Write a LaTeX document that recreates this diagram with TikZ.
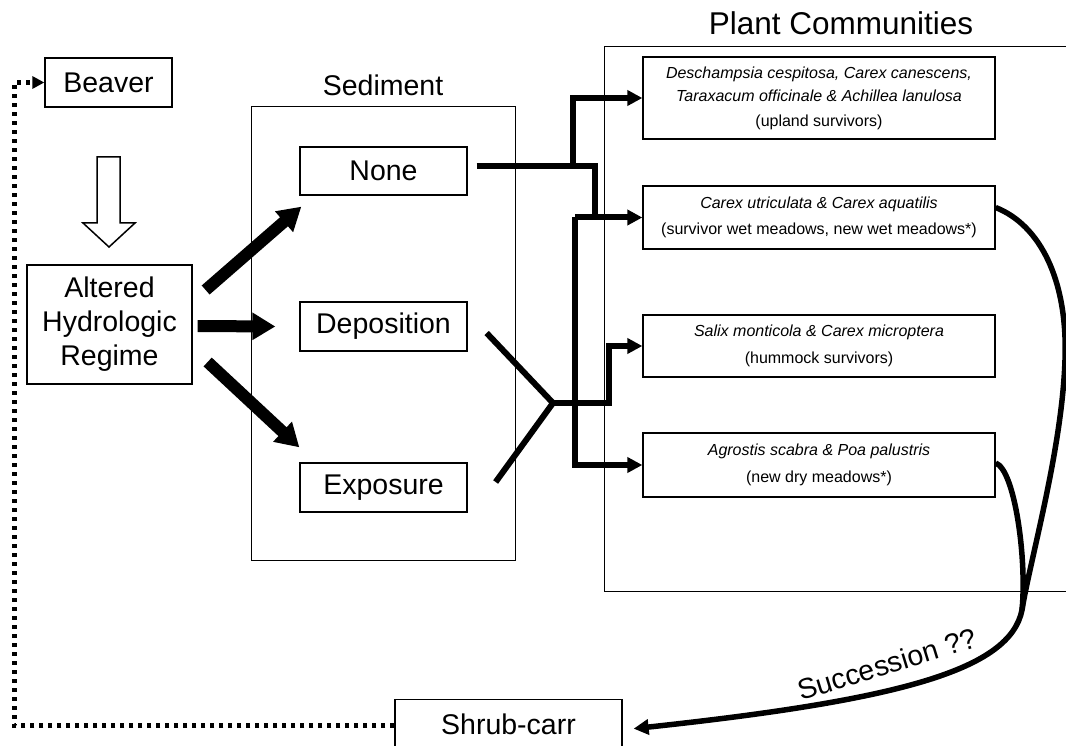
\documentclass[tikz,border=0pt]{standalone}
\usepackage{fontspec}
\setmainfont{Liberation Sans}
\usetikzlibrary{arrows.meta,calc}
\begin{document}
\begin{tikzpicture}[x=1pt,y=-1pt,
  box/.style={draw,line width=1.3pt,inner sep=0pt,align=center},
  outer/.style={draw,line width=1pt,inner sep=0pt},
  big/.style={font=\fontsize{28.5}{34}\selectfont},
  small/.style={font=\fontsize{16}{23}\selectfont},
  conn/.style={line width=6pt},
  arr/.style={-{Triangle[length=15pt,width=15pt]}},
  fatarrow/.style={line width=12pt,-{Triangle[length=23pt,width=26pt]}},
  dotline/.style={line width=4.5pt,dash pattern=on 4pt off 5pt},
]
\clip (0,0) rectangle (1066,746);
% outer frames
\node[outer,minimum width=264pt,minimum height=453pt] (sedbox) at (383,333.5) {};
\node[outer,minimum width=496pt,minimum height=544pt] (plantbox) at (852,319) {};
\node[big] (sedlabel) at (383,85) {Sediment};
\node[font=\fontsize{31.5}{36}\selectfont] (plantlabel) at (841,23) {Plant Communities};
% left nodes
\node[box,big,minimum width=127pt,minimum height=49pt] (beaver) at (108.5,82.5) {Beaver};
\node[box,big,minimum width=165pt,minimum height=119pt] (altered) at (109.5,324.5) {Altered\\Hydrologic\\Regime};
% sediment nodes
\node[box,big,minimum width=167pt,minimum height=48pt] (none) at (383.5,171) {None};
\node[box,big,minimum width=167pt,minimum height=49pt] (deposition) at (383.5,326.5) {Deposition};
\node[box,big,minimum width=167pt,minimum height=49pt] (exposure) at (383.5,487.5) {Exposure};
% plant nodes
\node[box,small,minimum width=352pt,minimum height=82pt] (box1) at (819,98)
  {\itshape Deschampsia cespitosa, Carex canescens,\\\itshape Taraxacum officinale \& Achillea lanulosa\\[2pt](upland survivors)};
\node[box,small,minimum width=352pt,minimum height=63pt] (box2) at (819,217.5)
  {\itshape Carex utriculata \& Carex aquatilis\\[3pt](survivor wet meadows, new wet meadows*)};
\node[box,small,minimum width=352pt,minimum height=62pt] (box3) at (819,346)
  {\itshape Salix monticola \& Carex microptera\\[4pt](hummock survivors)};
\node[box,small,minimum width=352pt,minimum height=64pt] (box4) at (819,465)
  {\itshape Agrostis scabra \& Poa palustris\\[4pt](new dry meadows*)};
\node[box,big,minimum width=227pt,minimum height=49pt,anchor=north] (shrub) at (508.5,699) {Shrub-carr};
% hollow arrow
\draw[line width=1.5pt,fill=white] (97,157) -- (120,157) -- (120,223) -- (135,223) -- (109,247) -- (83,223) -- (97,223) -- cycle;
% fat arrows
\draw[fatarrow] ([xshift=13pt,yshift=34.5pt]altered.east) -- ([xshift=2pt,yshift=-11pt]none.south west);
\draw[fatarrow] ([xshift=5pt,yshift=-1.5pt]altered.east) -- ([xshift=-24pt]deposition.west);
\draw[fatarrow] ([xshift=15pt,yshift=-37.5pt]altered.east) -- ([yshift=15pt]exposure.north west);
% connectors
\coordinate (jn) at (595,166);
\coordinate (jup) at (573,166);
\coordinate (jv) at (575,217.5);
\coordinate (fork) at (553,403);
\coordinate (j3) at (609,403);
\draw[conn] ([xshift=9pt,yshift=5pt]none.east) -- (jn) -- (jn |- box2.west);
\draw[conn,arr] (jup) |- (box1.west);
\draw[conn,arr] (jv) -- (box2.west);
\draw[conn,arr] (jv) |- (box4.west);
\draw[conn] ([xshift=19pt,yshift=-6.5pt]deposition.east) -- (fork) -- ([xshift=28pt,yshift=5.5pt]exposure.east);
\draw[conn,arr] (fork) -- (j3) |- (box3.west);
% succession
\draw[line width=5.5pt] ([yshift=2pt]box4.east) .. controls (1015,470) and (1027,560) .. (1022,610);
\draw[line width=5.5pt,-{Triangle[length=15pt,width=15pt]}] ([yshift=10pt]box2.east) .. controls (1040,225) and (1068,280) .. (1065,360)
  .. controls (1062,450) and (1030,560) .. (1022,610)
  .. controls (1010,670) and (900,700) .. ([xshift=11pt,yshift=-4.5pt]shrub.east);
\node[big,rotate=17] (succ) at (887,664) {Succession ??};
% dotted feedback
\draw[dotline,-{Triangle[length=12pt,width=12pt]}] ([yshift=-1.5pt]shrub.west) -- ++(-380,0) |- (beaver.west);
\end{tikzpicture}
\end{document}
